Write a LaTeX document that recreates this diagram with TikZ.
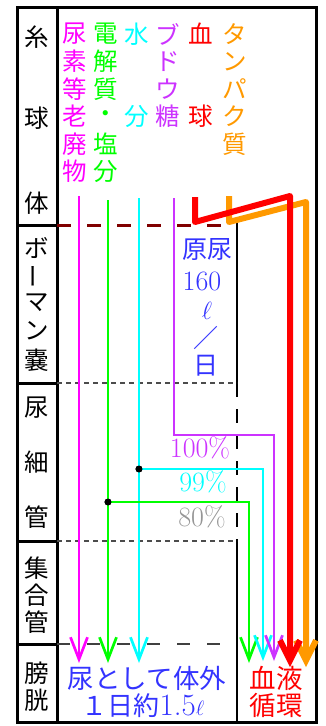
\documentclass[tikz,border=0pt]{standalone}
\usepackage{fontspec}
\usepackage{graphicx}
\usetikzlibrary{arrows.meta}
\newfontfamily\jp{Noto Sans CJK JP}
\definecolor{cMag}{RGB}{255,0,255}
\definecolor{cGrn}{RGB}{0,255,0}
\definecolor{cCyn}{RGB}{0,255,255}
\definecolor{cPur}{RGB}{204,51,255}
\definecolor{cRed}{RGB}{255,0,0}
\definecolor{cOrg}{RGB}{255,153,0}
\definecolor{cBlu}{RGB}{51,51,255}
\definecolor{cDRed}{RGB}{128,0,0}
\definecolor{cGray}{RGB}{150,150,150}
\newcommand\vcol[4]{%
  \foreach \r/\c [count=\k] in {#4} {\node[jch, text=#3] (#1\k) at (#2, {34+27.5*(\r-1)}) {\c};}}
\begin{document}
\begin{tikzpicture}[x=1pt,y=-1pt,
  every node/.style={inner sep=0pt},
  jch/.style={font=\jp\fontsize{24.5}{24.5}\selectfont},
  bnum/.style={font=\fontsize{28}{28}\selectfont},
  btxt/.style={font=\jp\fontsize{26.5}{26.5}\selectfont, text height=20pt, text depth=2pt},
  frm/.style={line width=3pt},
  midv/.style={line width=2.5pt},
  sdash/.style={line width=1.2pt, draw=black!70, dash pattern=on 5pt off 4pt},
  ldash/.style={line width=1.5pt, draw=black!75, dash pattern=on 13pt off 17pt},
  rdash/.style={line width=3pt, draw=cDRed, dash pattern=on 14pt off 16pt},
  vdash/.style={line width=2.5pt, dash pattern=on 14pt off 12pt},
  thinflow/.style={line width=2.7pt, -{Straight Barb[length=22pt,width=17pt]}},
  thickflow/.style={line width=6pt, line join=round, -{Straight Barb[length=20pt,width=20pt]}},
  dot/.style={circle, fill=black, minimum size=7pt, inner sep=0pt},
]
\useasboundingbox (0,0) rectangle (325,726);

% ---- frame
\draw[frm] (17,7) rectangle (316,722);
\draw[frm] (57,7) -- (57,722);
\foreach \yy in {225,383,541,644} \draw[frm] (17,\yy) -- (57,\yy);
\draw[midv] (237,222) -- (237,383);
\draw[vdash] (237,383) -- (237,541);
\draw[midv] (237,541) -- (237,722);
\draw[sdash] (57,383) -- (237,383);
\draw[sdash] (57,541) -- (237,541);
\draw[ldash] (57,644) -- (233,644);
\draw[rdash] (57,225) -- (233,225);

% ---- left column labels
\foreach \yy/\c [count=\k] in {37/糸,118/球,203/体} {\node[jch] (glo\k) at (37,\yy) {\c};}
\foreach \yy/\c [count=\k] in {248/ボ,276/{\rotatebox[origin=c]{90}{ー}},303/マ,331/ン,360/嚢} {\node[jch] (bow\k) at (37,\yy) {\c};}
\foreach \yy/\c [count=\k] in {408/尿,462/細,517/管} {\node[jch] (tub\k) at (37,\yy) {\c};}
\foreach \yy/\c [count=\k] in {568/集,595/合,622/管} {\node[jch] (col\k) at (37,\yy) {\c};}
\foreach \yy/\c [count=\k] in {673/膀,700/胱} {\node[jch] (bla\k) at (37,\yy) {\c};}

% ---- top column labels
\vcol{mag}{75}{cMag}{1/尿,2/素,3/等,4/老,5/廃,6/物}
\vcol{grn}{106}{cGrn}{1/電,2/解,3/質,4/・,5/塩,6/分}
\vcol{cyn}{137}{cCyn}{1/水,4/分}
\vcol{pur}{168}{cPur}{1/ブ,2/ド,3/ウ,4/糖}
\vcol{red}{201}{cRed}{1/血,4/球}
\vcol{org}{235}{cOrg}{1/タ,2/ン,3/パ,4/ク,5/質}

% ---- coordinates
\coordinate (magS) at (79,196);  \coordinate (magE) at (79,663);
\coordinate (grnS) at (108,200); \coordinate (grnE) at (108,663);
\coordinate (cynS) at (139,198); \coordinate (cynE) at (139,663);
\coordinate (purS) at (174,198); \coordinate (purT) at (174,435);
\coordinate (grnE2) at (249,663);
\coordinate (cynE2) at (263,661);
\coordinate (purE2) at (274,661);
\coordinate (redS) at (195,197); \coordinate (redK) at (195,222);
\coordinate (redT) at (290,196); \coordinate (redE) at (290,667);
\coordinate (orgS) at (229,196); \coordinate (orgK) at (229,222);
\coordinate (orgT) at (306,202); \coordinate (orgE) at (306,667);
\node[dot] (gdot) at (108,502) {};
\node[dot] (cdot) at (139,469) {};

% ---- flows
\draw[thinflow, cMag] (magS) -- (magE);
\draw[thinflow, cGrn] (grnS) -- (grnE);
\draw[thinflow, cCyn] (cynS) -- (cynE);
\draw[thinflow, cGrn] (gdot.center) -| (grnE2);
\draw[thinflow, cCyn] (cdot.center) -| (cynE2);
\draw[thinflow, cPur] (purS) -- (purT) -| (purE2);
\node[dot] at (gdot.center) {};
\node[dot] at (cdot.center) {};
\draw[thickflow, cOrg] (orgS) -- (orgK) -- (orgT) -- (orgE);
\draw[thickflow, cRed] (redS) -- (redK) -- (redT) -- (redE);

% ---- blue texts
\node[font=\jp\fontsize{25}{25}\selectfont, text=cBlu] (genn) at (207,249) {原尿};
\node[bnum, text=cBlu] (g160) at (202,281) {160};
\node[text=cBlu] (gell) at (207,311) {\Huge$\ell$};
\node[font=\jp\fontsize{25}{25}\selectfont, text=cBlu] (gsl) at (206,338) {／};
\node[font=\jp\fontsize{25}{25}\selectfont, text=cBlu] (gday) at (206,366) {日};

% ---- percentages
\node[bnum, text=cPur] (p100) at (200,448) {100\%};
\node[bnum, text=cCyn] (p99) at (203,482) {99\%};
\node[bnum, text=cGray] (p80) at (202,517) {80\%};

% ---- bottom
\node[btxt, text=cBlu, anchor=base] (out1) at (147,688) {尿として体外};
\node[text=cBlu, anchor=base, text height=17pt, text depth=2pt] (out2) at (143,715) {{\jp\fontsize{26}{26}\selectfont １日約}{\fontsize{31}{31}\selectfont 1.5}{\huge$\ell$}};
\node[btxt, text=cRed, anchor=base] (blo1) at (276,688) {血液};
\node[btxt, text=cRed, anchor=base] (blo2) at (276,715) {循環};
\end{tikzpicture}
\end{document}
